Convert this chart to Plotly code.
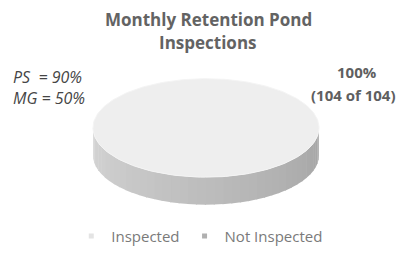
import numpy as np
import plotly.graph_objects as go

# ---- data ----
categories = ["Inspected", "Not Inspected"]
values = [104, 0]
title_lines = ["Monthly Retention Pond", "Inspections"]
left_notes = ["PS  = 90%", "MG = 50%"]
total_inspected = values[0]
total_ponds = sum(values)

# ---- style ----
W, H = 396, 253
top_colors = ["#eeeeee", "#9a9a9a"]
side_light = [np.array([0xd6, 0xd6, 0xd6]), np.array([0x90, 0x90, 0x90])]
side_dark = [np.array([0xa4, 0xa4, 0xa4]), np.array([0x70, 0x70, 0x70])]
legend_colors = ["#e4e4e4", "#b0b0b0"]
cx, cy, rx, ry, depth = 206, 130, 113, 50, 28
FONT = "Open Sans"

fig = go.Figure()

fractions = np.array(values, dtype=float) / float(sum(values))
starts = np.concatenate([[0.0], np.cumsum(fractions)[:-1]]) * 360.0
ends = starts + fractions * 360.0


def pt(a_deg, dy=0.0):
    a = np.radians(a_deg)
    return cx + rx * np.sin(a), cy - ry * np.cos(a) + dy


# side walls (front-facing part: angles 90..270)
for i, (s, e) in enumerate(zip(starts, ends)):
    lo, hi = max(s, 90.0), min(e, 270.0)
    if hi <= lo:
        continue
    nstrip = 40
    edges = np.linspace(lo, hi, nstrip + 1)
    for k in range(nstrip):
        a0, a1 = edges[k], edges[k + 1]
        t = (270.0 - (a0 + a1) / 2) / 180.0  # 0 at left, 1 at right
        c = side_light[i] * (1 - t) + side_dark[i] * t
        col = "rgb(%d,%d,%d)" % tuple(c.astype(int))
        arc = np.linspace(a0, a1 + 0.6, 4)
        xs_u, ys_u = pt(arc)
        xs_l, ys_l = pt(arc[::-1], depth)
        fig.add_trace(go.Scatter(
            x=np.concatenate([xs_u, xs_l]), y=np.concatenate([ys_u, ys_l]),
            mode="lines", fill="toself", fillcolor=col,
            line=dict(width=0), hoverinfo="skip", showlegend=False))

# top surfaces
for i, (s, e) in enumerate(zip(starts, ends)):
    if e - s <= 0:
        continue
    arc = np.linspace(s, e, 200)
    xs, ys = pt(arc)
    if e - s < 360:
        xs = np.concatenate([[cx], xs, [cx]])
        ys = np.concatenate([[cy], ys, [cy]])
    fig.add_trace(go.Scatter(
        x=xs, y=ys, mode="lines", fill="toself", fillcolor=top_colors[i],
        line=dict(width=1, color="#f4f4f4"), hoverinfo="skip", showlegend=False,
        name=categories[i]))

# legend entries
for i, cat in enumerate(categories):
    fig.add_trace(go.Scatter(
        x=[None], y=[None], mode="markers", name=cat,
        marker=dict(symbol="square", size=5, color=legend_colors[i])))

pct = 100.0 * total_inspected / total_ponds
annotations = []
for j, (yy, txt) in enumerate(zip([20, 43], title_lines)):
    annotations.append(dict(x=208, y=yy, text="<b>%s</b>" % txt, xref="x", yref="y",
                            showarrow=False,
                            font=dict(family=FONT, size=17, color="#636363")))
for yy, txt in zip([78, 100], left_notes):
    annotations.append(dict(x=11, y=yy, text="<i>%s</i>" % txt, xanchor="left",
                            xref="x", yref="y", showarrow=False,
                            font=dict(family=FONT, size=16, color="#454545")))
for xx, yy, txt in [(357, 73, "%d%%" % round(pct)),
                    (353, 97, "(%d of %d)" % (total_inspected, total_ponds))]:
    annotations.append(dict(x=xx, y=yy, text="<b>%s</b>" % txt, xref="x", yref="y",
                            showarrow=False,
                            font=dict(family=FONT, size=15, color="#5f5f5f")))

fig.update_layout(
    width=W, height=H, margin=dict(l=0, r=0, t=0, b=0),
    paper_bgcolor="white", plot_bgcolor="white",
    xaxis=dict(range=[0, W], visible=False, fixedrange=True),
    yaxis=dict(range=[H, 0], visible=False, fixedrange=True),
    annotations=annotations,
    legend=dict(orientation="h", x=0.18, xanchor="left", y=13 / H, yanchor="middle",
                font=dict(family=FONT, size=15, color="#7a7a7a"),
                itemwidth=30, bgcolor="rgba(0,0,0,0)"),
)

fig.write_html("out.html", config={"displayModeBar": False},
               post_script="document.body.style.margin='0';")
